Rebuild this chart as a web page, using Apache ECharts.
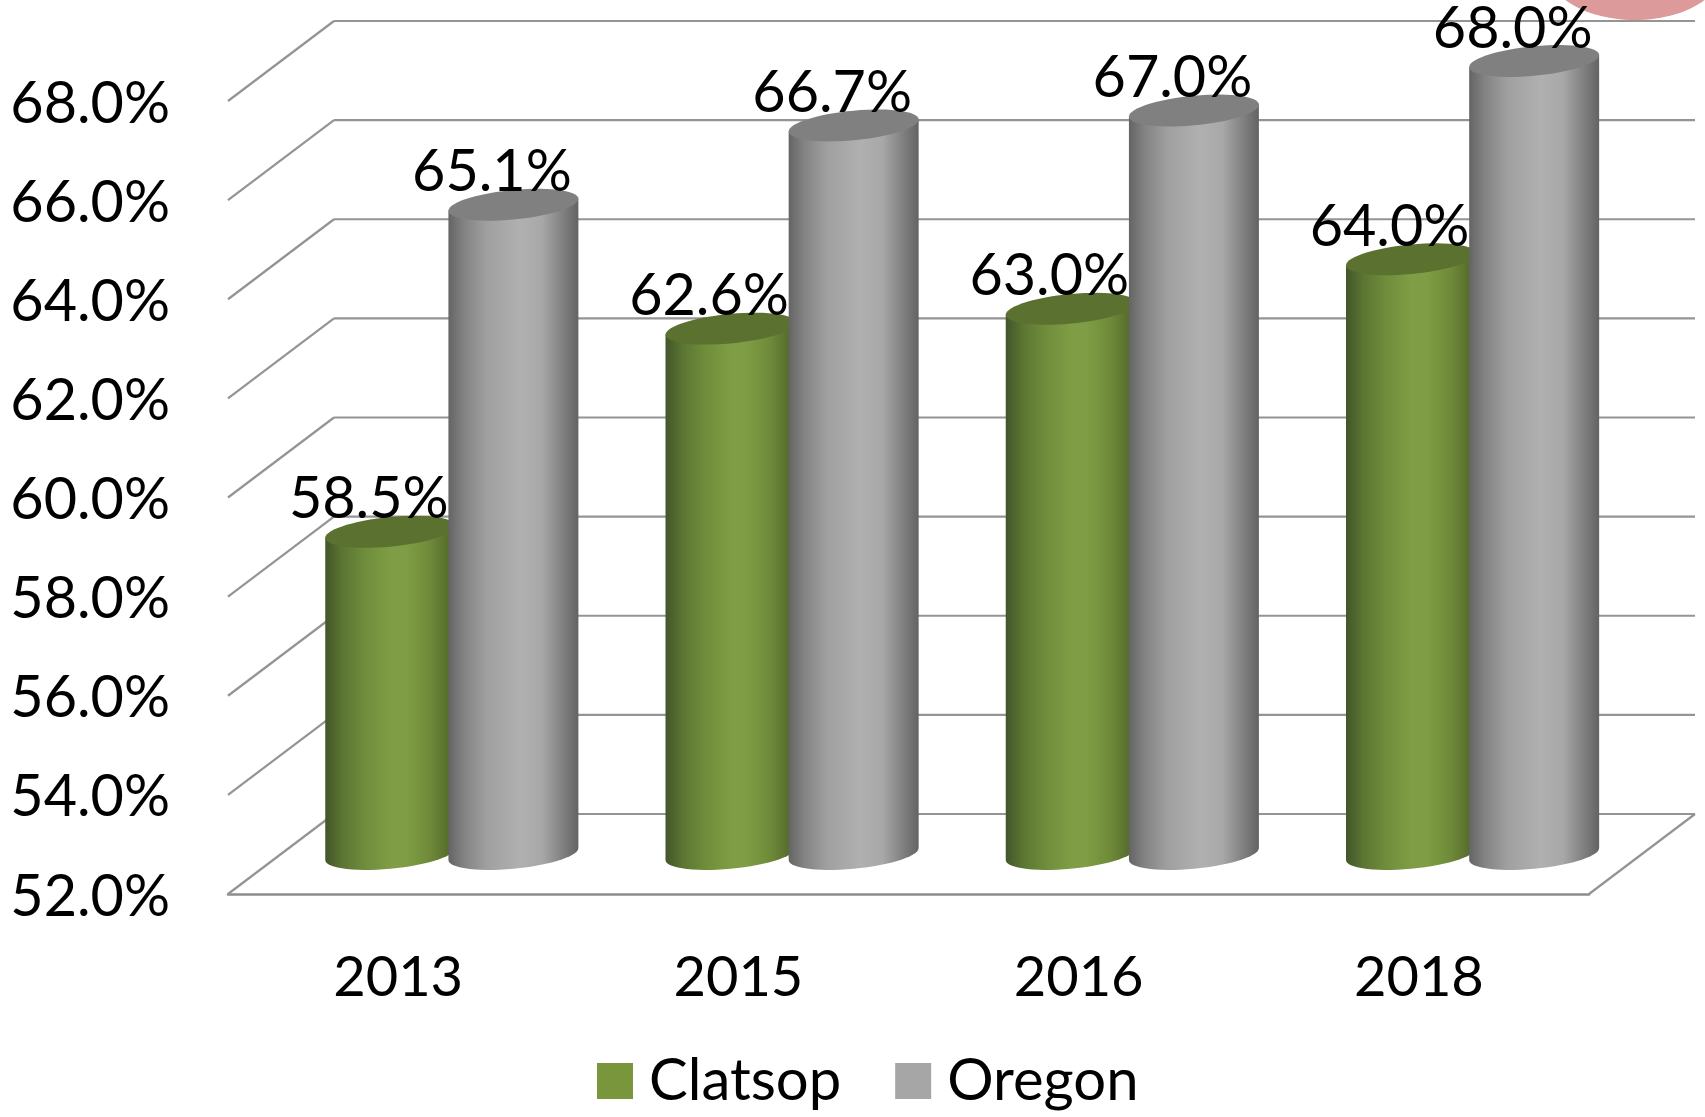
<!DOCTYPE html>
<html>
<head>
<meta charset="utf-8">
<style>html,body{margin:0;padding:0;background:#fff}#c{width:1705px;height:1117px}</style>
<script src="https://cdn.jsdelivr.net/npm/echarts@6/dist/echarts.min.js"></script>
</head>
<body>
<div id="c"></div>
<script>
var years = ['2013', '2015', '2016', '2018'];
var clatsop = [58.5, 62.6, 63.0, 64.0];
var oregon = [65.1, 66.7, 67.0, 68.0];
var yTicks = [52, 54, 56, 58, 60, 62, 64, 66, 68];

var FONT = 'Lato';
var DEPTH_X = 106, DEPTH_Y = -80;
var GRID_COLOR = '#949494';

function hGrad(stops) {
  return {
    type: 'linear', x: 0, y: 0, x2: 1, y2: 0,
    colorStops: stops.map(function (s) { return { offset: s[0], color: s[1] }; })
  };
}
var greenBody = hGrad([[0, '#42552a'], [0.13, '#5b7532'], [0.3, '#6f8c3b'], [0.5, '#7f9d44'], [0.62, '#7f9d44'], [0.8, '#6f8b3a'], [1, '#4f6327']]);
var grayBody = hGrad([[0, '#646464'], [0.12, '#838383'], [0.3, '#a0a0a0'], [0.55, '#b0b0b0'], [0.72, '#a8a8a8'], [0.88, '#808080'], [1, '#636363']]);

function frameItem(params, api) {
  var v = api.value(1);
  var band = api.size([1, 0])[0];
  var p = api.coord([0, v]);
  var x0 = p[0] - band / 2, y = p[1];
  var x1 = x0 + band * years.length;
  var style = { stroke: GRID_COLOR, lineWidth: 2.2, fill: null };
  var kids = [
    { type: 'line', shape: { x1: x0, y1: y, x2: x0 + DEPTH_X, y2: y + DEPTH_Y }, style: style },
    { type: 'line', shape: { x1: x0 + DEPTH_X, y1: y + DEPTH_Y, x2: x1 + DEPTH_X, y2: y + DEPTH_Y }, style: style }
  ];
  if (params.dataIndex === 0) {
    kids.push({ type: 'line', shape: { x1: x1, y1: y, x2: x1 + DEPTH_X, y2: y + DEPTH_Y }, style: style });
  }
  return { type: 'group', children: kids };
}

function cylinder(side, body, capColor) {
  return function (params, api) {
    var cat = api.value(0), val = api.value(1);
    var top = api.coord([cat, val]);
    var base = api.coord([cat, 52]);
    var band = api.size([1, 0])[0];
    var halfW = band * 0.191;
    var step = band * 0.181;
    var cx = top[0] + side * step + DEPTH_X / 2 + 0.7;
    var ct = top[1] + DEPTH_Y / 2;
    var cb = base[1] + DEPTH_Y / 2;
    var B = 14.8, SK = -0.092, N = 60;
    function pt(c, t) {
      var ca = Math.cos(t), sa = Math.sin(t);
      return [cx + halfW * ca, c + B * sa + SK * halfW * ca];
    }
    var cap = [], i;
    for (i = 0; i < N; i++) cap.push(pt(ct, 2 * Math.PI * i / N));
    var bodyPts = [pt(ct, Math.PI), pt(ct, 0)];
    for (i = 0; i <= N / 2; i++) bodyPts.push(pt(cb, Math.PI * i / (N / 2)));
    return {
      type: 'group',
      children: [
        { type: 'polygon', z2: side < 0 ? 1 : 3, shape: { points: bodyPts }, style: { fill: body } },
        { type: 'polygon', z2: side < 0 ? 2 : 4, shape: { points: cap }, style: { fill: capColor } },
        {
          type: 'text', z2: 20,
          style: {
            x: cx - 21.5, y: ct - 32,
            text: val.toFixed(1) + '%',
            font: '57.5px ' + FONT, fill: '#000',
            align: 'center', verticalAlign: 'middle'
          }
        }
      ]
    };
  };
}

function pairs(vals) { return vals.map(function (v, i) { return [i, v]; }); }

var chart = echarts.init(document.getElementById('c'), null, { renderer: 'canvas' });
chart.setOption({
  animation: false,
  backgroundColor: '#ffffff',
  grid: { left: 228, right: 116, top: 101, height: 793 },
  xAxis: {
    type: 'category', data: years,
    axisLine: { show: true, lineStyle: { color: '#8c8c8c', width: 2.5 } },
    axisTick: { show: false },
    axisLabel: { color: '#000', fontFamily: FONT, fontSize: 56, margin: 56 }
  },
  yAxis: {
    type: 'value', min: 52, max: 68, interval: 2,
    axisLine: { show: false }, axisTick: { show: false },
    splitLine: { show: false },
    axisLabel: {
      color: '#000', fontFamily: FONT, fontSize: 57.5, margin: 58,
      formatter: function (v) { return '{a|' + v.toFixed(1) + '%}'; },
      rich: { a: { color: '#000', fontFamily: FONT, fontSize: 57.5, padding: [6, 0, 0, 0] } }
    }
  },
  legend: {
    left: 592, top: 1047,
    itemWidth: 36, itemHeight: 36, itemGap: 54,
    icon: 'rect',
    data: ['Clatsop', 'Oregon'],
    textStyle: { color: '#000', fontFamily: FONT, fontSize: 58, padding: [0, 0, 0, 11] }
  },
  graphic: [{
    type: 'ellipse', z: 0,
    shape: { cx: 1635, cy: -30, rx: 87, ry: 50 },
    style: { fill: '#dc9a9a' }
  }],
  series: [
    { type: 'custom', name: 'frame', z: 1, silent: true, renderItem: frameItem, encode: { x: 0, y: 1 },
      data: yTicks.map(function (v) { return [0, v]; }) },
    { type: 'custom', name: 'Clatsop', z: 2, renderItem: cylinder(-1, greenBody, '#5b712f'), encode: { x: 0, y: 1 },
      itemStyle: { color: '#7a963c' }, data: pairs(clatsop) },
    { type: 'custom', name: 'Oregon', z: 2, renderItem: cylinder(1, grayBody, '#808080'), encode: { x: 0, y: 1 },
      itemStyle: { color: '#a6a6a6' }, data: pairs(oregon) }
  ]
});
</script>
</body>
</html>
